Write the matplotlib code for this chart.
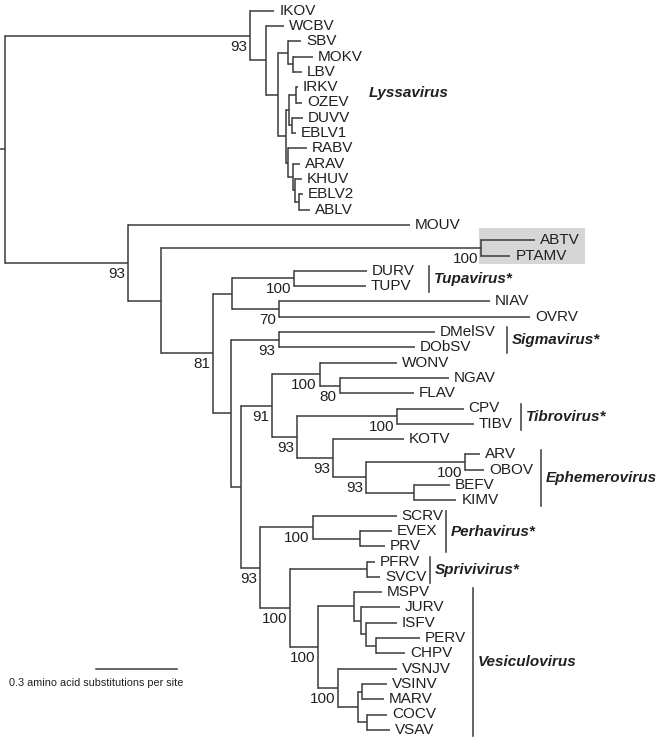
import matplotlib.pyplot as plt
from matplotlib.patches import Rectangle

plt.rcParams['font.family'] = ['Liberation Sans', 'DejaVu Sans']

# Newick pieces: branch lengths in amino acid substitutions per site,
# internal labels are bootstrap support values
lyssavirus = ("(IKOV:0.089,(WCBV:0.069,((SBV:0.046,(MOKV:0.076,LBV:0.035):0.015):0.040,"
              "(((IRKV:0.007,OZEV:0.022):0.026,(DUVV:0.041,EBLV1:0.015):0.011):0.011,"
              "(RABV:0.070,(ARAV:0.026,(KHUV:0.026,(EBLV2:0.015,ABLV:0.041):0.015):0.007)"
              ":0.020):0.006):0.031):0.045):0.056)93:0.909")
abtv = "(ABTV:0.201,PTAMV:0.109)100:1.186"
tupa_nia = "((DURV:0.268,TUPV:0.264)100:0.232,(NIAV:0.780,OVRV:0.928)70:0.176):0.069"
sigma = "(DMelSV:0.580,DObSV:0.506)93:0.177"
ephem = ("((WONV:0.287,(NGAV:0.404,FLAV:0.274)80:0.074)100:0.176,"
         "((CPV:0.247,TIBV:0.284)100:0.370,(KOTV:0.261,((ARV:0.053,OBOV:0.070)100:0.367,"
         "(BEFV:0.133,KIMV:0.156):0.178)93:0.123)93:0.133)93:0.093)91:0.115")
vesic = ("((SCRV:0.311,(EVEX:0.120,PRV:0.095):0.173)100:0.195,"
         "((PFRV:0.031,SVCV:0.049):0.284,((MSPV:0.103,(JURV:0.144,(ISFV:0.115,"
         "(PERV:0.164,CHPV:0.109):0.037):0.017):0.026):0.132,(VSNJV:0.219,"
         "((VSINV:0.093,MARV:0.080):0.013,(COCV:0.074,VSAV:0.086):0.031):0.076)100:0.072)"
         "100:0.105)100:0.111)93:0.071")

tree_str = ("(" + lyssavirus + ",(MOUV:1.044,(" + abtv + ",(" + tupa_nia + ",(" + sigma
            + ",(" + ephem + "," + vesic + "):0.038):0.065)81:0.194):0.121)93:0.456):0.0185")

# genus brackets: name, first leaf, last leaf
clade_names = ['Tupavirus*', 'Sigmavirus*', 'Tibrovirus*', 'Ephemerovirus',
               'Perhavirus*', 'Sprivivirus*', 'Vesiculovirus']
clade_first = ['DURV', 'DMelSV', 'CPV', 'ARV', 'SCRV', 'PFRV', 'MSPV']
clade_last = ['TUPV', 'DObSV', 'TIBV', 'KIMV', 'PRV', 'SVCV', 'VSAV']
highlight = ['ABTV', 'PTAMV']
scale_len = 0.3


def parse(s):
    pos = 0

    def node():
        nonlocal pos
        kids = []
        if s[pos] == '(':
            pos += 1
            kids.append(node())
            while s[pos] == ',':
                pos += 1
                kids.append(node())
            pos += 1
        start = pos
        while pos < len(s) and s[pos] not in ':,)':
            pos += 1
        name = s[start:pos]
        length = 0.0
        if pos < len(s) and s[pos] == ':':
            pos += 1
            start = pos
            while pos < len(s) and s[pos] not in ',)':
                pos += 1
            length = float(s[start:pos])
        return {'name': name, 'len': length, 'kids': kids}

    return node()


root = parse(tree_str)

# layout: x = cumulative branch length, y = leaf order
leaf_y = {}
leaf_x = {}
counter = [0]


def layout(n, x0):
    n['x'] = x0 + n['len']
    n['x0'] = x0
    if not n['kids']:
        n['y'] = counter[0]
        leaf_y[n['name']] = counter[0]
        leaf_x[n['name']] = n['x']
        counter[0] += 1
    else:
        for k in n['kids']:
            layout(k, n['x'])
        n['y'] = (n['kids'][0]['y'] + n['kids'][-1]['y']) / 2


layout(root, 0.0)

px = scale_len / 81.0          # data units per pixel
W, H = 657, 739
y0, dy = 10.7, 15.3            # pixel position of first leaf and leaf spacing


def ypx(p):
    return (p - y0) / dy


fig = plt.figure(figsize=(W / 100, H / 100), dpi=100)
ax = fig.add_axes([0, 0, 1, 1])
ax.set_xlim(0, W * px)
ax.set_ylim(ypx(H), ypx(0))
ax.axis('off')

lc = '#3a3a3a'
tc = '#231f20'
lw = 1.1
fs = 11


def draw(n):
    ax.plot([n['x0'], n['x']], [n['y'], n['y']], color=lc, lw=lw, solid_capstyle='butt')
    if n['kids']:
        ax.plot([n['x'], n['x']], [n['kids'][0]['y'], n['kids'][-1]['y']],
                color=lc, lw=lw, solid_capstyle='projecting')
        if n['name']:
            ax.annotate(n['name'], (n['x'], n['y']), xytext=(-3, -11),
                        textcoords='offset pixels', ha='right', va='center',
                        fontsize=fs, color=tc)
        for k in n['kids']:
            draw(k)
    else:
        ax.annotate(n['name'], (n['x'], n['y']), xytext=(5, 0),
                    textcoords='offset pixels', ha='left', va='center',
                    fontsize=fs, color=tc)


draw(root)

# grey box around ABTV / PTAMV
box_left = 478.5 * px
box_right = 585 * px
box_top = leaf_y[highlight[0]] - 0.8
box_bot = leaf_y[highlight[-1]] + 0.55
ax.add_patch(Rectangle((box_left, box_top), box_right - box_left, box_bot - box_top,
                       facecolor='#d6d6d6', edgecolor='none', zorder=0))

# genus brackets
bar_px = [429, 506.7, 520.7, 540.7, 446, 430, 472.7]
for name, a, b, bx in zip(clade_names, clade_first, clade_last, bar_px):
    ya, yb = leaf_y[a] - 0.3, leaf_y[b] + 0.4
    ax.plot([bx * px, bx * px], [ya, yb], color=lc, lw=lw)
    ax.text((bx + 5) * px, (ya + yb) / 2, name, fontsize=fs, fontweight='bold',
            fontstyle='italic', ha='left', va='center', color=tc)

ax.text(369 * px, ypx(93), 'Lyssavirus', fontsize=fs, fontweight='bold',
        fontstyle='italic', ha='left', va='center', color=tc)

# scale bar
sb_x = 96 * px
sb_y = ypx(669.3)
ax.plot([sb_x, sb_x + scale_len], [sb_y, sb_y], color=lc, lw=lw)
ax.text(9 * px, ypx(683.5), '0.3 amino acid substitutions per site',
        fontsize=7.8, ha='left', va='center', color=tc)

fig.savefig('out.png', dpi=100)
